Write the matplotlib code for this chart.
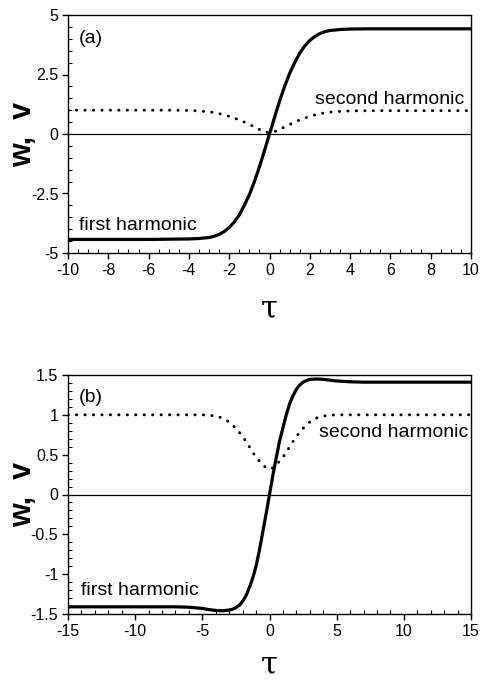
import matplotlib
matplotlib.use("Agg")
import matplotlib.pyplot as plt
from matplotlib.ticker import MultipleLocator

plt.rcParams['font.family'] = ['Liberation Sans', 'DejaVu Sans']

# ---------------- data ----------------
tau_a = [-10, -9, -8, -7, -6, -5, -4, -3.5, -3, -2.75, -2.5, -2.25, -2, -1.75, -1.5,
         -1.25, -1, -0.75, -0.5, -0.25, 0, 0.25, 0.5, 0.75, 1, 1.25, 1.5, 1.75, 2,
         2.25, 2.5, 2.75, 3, 3.5, 4, 5, 6, 7, 8, 9, 10]
w_a = [-4.43, -4.43, -4.43, -4.43, -4.43, -4.42, -4.41, -4.39, -4.35, -4.3, -4.22,
       -4.1, -3.93, -3.7, -3.4, -3.0, -2.55, -2.0, -1.38, -0.7, 0.0, 0.7, 1.38, 2.0,
       2.55, 3.0, 3.4, 3.7, 3.93, 4.1, 4.22, 4.3, 4.35, 4.39, 4.41, 4.42, 4.42, 4.42,
       4.42, 4.42, 4.42]
v_a = [1.0, 1.0, 1.0, 1.0, 1.0, 1.0, 0.99, 0.97, 0.93, 0.9, 0.86, 0.8, 0.74, 0.67,
       0.59, 0.5, 0.4, 0.3, 0.19, 0.1, 0.05, 0.1, 0.19, 0.3, 0.4, 0.5, 0.59, 0.67,
       0.74, 0.8, 0.85, 0.89, 0.92, 0.95, 0.97, 0.98, 0.98, 0.98, 0.98, 0.98, 0.98]

tau_b = [-15, -12, -10, -8, -7, -6, -5, -4.5, -4, -3.5, -3, -2.75, -2.5, -2.25, -2,
         -1.75, -1.5, -1.25, -1, -0.75, -0.5, -0.25, 0, 0.25, 0.5, 0.75, 1, 1.25,
         1.5, 1.75, 2, 2.25, 2.5, 2.75, 3, 3.5, 4, 4.5, 5, 6, 7, 8, 10, 12, 15]
w_b = [-1.41, -1.41, -1.41, -1.41, -1.41, -1.415, -1.43, -1.445, -1.455, -1.46, -1.45,
       -1.44, -1.42, -1.39, -1.34, -1.27, -1.17, -1.05, -0.9, -0.7, -0.47, -0.24,
       0.0, 0.24, 0.46, 0.67, 0.84, 1.0, 1.14, 1.24, 1.32, 1.375, 1.41, 1.43, 1.445,
       1.45, 1.445, 1.435, 1.425, 1.415, 1.41, 1.41, 1.41, 1.41, 1.41]
v_b = [1.0, 1.0, 1.0, 1.0, 1.0, 1.0, 1.0, 0.995, 0.985, 0.96, 0.91, 0.87, 0.83, 0.78,
       0.73, 0.665, 0.6, 0.53, 0.47, 0.42, 0.37, 0.335, 0.32, 0.335, 0.37, 0.42, 0.47,
       0.53, 0.6, 0.665, 0.73, 0.78, 0.83, 0.87, 0.91, 0.96, 0.985, 0.995, 1.0, 1.0,
       1.0, 1.0, 1.0, 1.0, 1.0]

xticks_a = [-10, -8, -6, -4, -2, 0, 2, 4, 6, 8, 10]
yticks_a = [-5, -2.5, 0, 2.5, 5]
yticklabels_a = ['-5', '-2.5', '0', '2.5', '5']
xticks_b = [-15, -10, -5, 0, 5, 10, 15]
yticks_b = [-1.5, -1, -0.5, 0, 0.5, 1, 1.5]
yticklabels_b = ['-1.5', '-1', '-0.5', '0', '0.5', '1', '1.5']

# ---------------- figure ----------------
fig = plt.figure(figsize=(4.8, 6.83), dpi=100)
ax_a = fig.add_axes([68/480, 1-253/683, 403/480, 238/683])
ax_b = fig.add_axes([68/480, 1-614/683, 403/480, 239/683])


def style(ax, xlim, ylim, xt, yt, ytl, xminor, yminor, xlab_y):
    ax.set_xlim(*xlim)
    ax.set_ylim(*ylim)
    ax.set_xticks(xt)
    ax.set_xticklabels([str(t) for t in xt])
    ax.set_yticks(yt)
    ax.set_yticklabels(ytl)
    ax.xaxis.set_minor_locator(MultipleLocator(xminor))
    ax.yaxis.set_minor_locator(MultipleLocator(yminor))
    ax.tick_params(which='major', direction='out', length=4, width=1.0,
                   labelsize=11.5, pad=3, top=False, right=False)
    ax.tick_params(which='minor', direction='in', length=3, width=0.8,
                   top=False, right=False)
    for s in ax.spines.values():
        s.set_linewidth(1.0)
    ax.axhline(0, color='black', lw=0.9, zorder=1)
    ax.set_ylabel('w,  v', fontsize=22, fontweight='bold', va='center')
    ax.yaxis.set_label_coords(-0.112, 0.5)
    ax.set_xlabel('τ', fontsize=22, family=['DejaVu Serif'], va='center')
    ax.xaxis.set_label_coords(0.5, xlab_y)


style(ax_a, (-10, 10), (-5, 5), xticks_a, yticks_a, yticklabels_a, 0.5, 0.5, -0.235)
ax_a.plot(tau_a, w_a, color='black', lw=2.3, solid_capstyle='butt', zorder=3)
ax_a.plot(tau_a, v_a, color='black', lw=2.1, linestyle=(0, (0.1, 2.8)),
          dash_capstyle='round', zorder=2)
ax_a.text(-9.45, 3.84, '(a)', fontsize=14)
ax_a.text(2.26, 1.26, 'second harmonic', fontsize=14)
ax_a.text(-9.45, -4.05, 'first harmonic', fontsize=14)

style(ax_b, (-15, 15), (-1.5, 1.5), xticks_b, yticks_b, yticklabels_b, 1, 0.1, -0.215)
ax_b.plot(tau_b, w_b, color='black', lw=2.3, solid_capstyle='butt', zorder=3)
ax_b.plot(tau_b, v_b, color='black', lw=2.1, linestyle=(0, (0.1, 2.8)),
          dash_capstyle='round', zorder=2)
ax_b.text(-14.18, 1.165, '(b)', fontsize=14)
ax_b.text(3.69, 0.726, 'second harmonic', fontsize=14)
ax_b.text(-14.03, -1.26, 'first harmonic', fontsize=14)

fig.savefig('out.png', dpi=100)
